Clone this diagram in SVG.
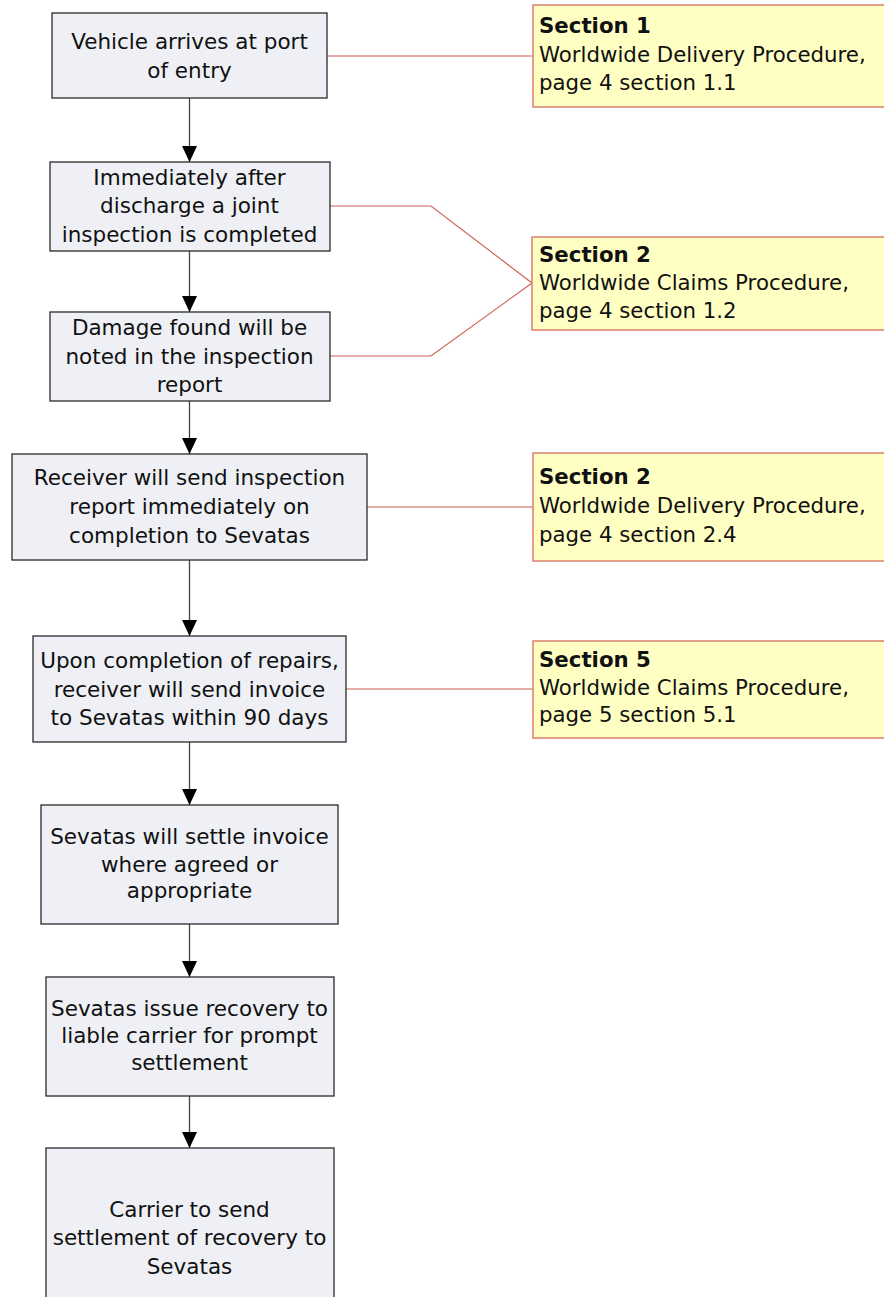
<svg xmlns="http://www.w3.org/2000/svg" width="884" height="1297" viewBox="0 0 884 1297">
<style>
.box{fill:#eef0f5;stroke:#2a2a2a;stroke-width:1.3}
.note{fill:#ffffc4;stroke:#dc7f6c;stroke-width:1.5}
.t{font-family:"DejaVu Sans",sans-serif;font-size:21.5px;fill:#111;text-anchor:middle}
.n{font-family:"DejaVu Sans",sans-serif;font-size:21.3px;fill:#111}
.b{font-weight:bold}
.flow{stroke:#444;stroke-width:1.3;fill:none;marker-end:url(#ah)}
.ref{stroke:#cd5d52;stroke-width:1.1;fill:none}
</style>
<defs>
<marker id="ah" markerWidth="16" markerHeight="15" refX="16" refY="7.5" orient="auto" markerUnits="userSpaceOnUse" viewBox="0 0 16 15">
<path d="M0,0 L16,7.5 L0,15 Z" fill="#000"/>
</marker>
</defs>
<rect width="884" height="1297" fill="#fff"/>
<g id="connectors">
<line class="flow" x1="189.5" y1="98" x2="189.5" y2="162"/>
<line class="flow" x1="189.5" y1="251" x2="189.5" y2="312"/>
<line class="flow" x1="189.5" y1="401" x2="189.5" y2="454"/>
<line class="flow" x1="189.5" y1="560" x2="189.5" y2="636"/>
<line class="flow" x1="189.5" y1="742" x2="189.5" y2="805"/>
<line class="flow" x1="189.5" y1="924" x2="189.5" y2="977"/>
<line class="flow" x1="189.5" y1="1096" x2="189.5" y2="1148"/>
<polyline class="ref" points="327,56 533,56"/>
<polyline class="ref" points="330,206 431,206 532,283"/>
<polyline class="ref" points="330,356 431,356 532,283"/>
<polyline class="ref" points="367,507 533,507"/>
<polyline class="ref" points="346,689 533,689"/>
</g>
<g id="n1"><rect class="box" x="52" y="13" width="275" height="85"/>
<text class="t" x="189.5" y="49">Vehicle arrives at port</text><text class="t" x="189.5" y="78">of entry</text></g>
<g id="n2"><rect class="box" x="50" y="162" width="280" height="89"/>
<text class="t" x="189.5" y="185">Immediately after</text><text class="t" x="189.5" y="213">discharge a joint</text><text class="t" x="189.5" y="242">inspection is completed</text></g>
<g id="n3"><rect class="box" x="50" y="312" width="280" height="89"/>
<text class="t" x="189.5" y="335">Damage found will be</text><text class="t" x="189.5" y="364">noted in the inspection</text><text class="t" x="189.5" y="392">report</text></g>
<g id="n4"><rect class="box" x="12" y="454" width="355" height="106"/>
<text class="t" x="189.5" y="485">Receiver will send inspection</text><text class="t" x="189.5" y="514">report immediately on</text><text class="t" x="189.5" y="543">completion to Sevatas</text></g>
<g id="n5"><rect class="box" x="33" y="636" width="313" height="106"/>
<text class="t" x="189.5" y="668">Upon completion of repairs,</text><text class="t" x="189.5" y="697">receiver will send invoice</text><text class="t" x="189.5" y="725">to Sevatas within 90 days</text></g>
<g id="n6"><rect class="box" x="41" y="805" width="297" height="119"/>
<text class="t" x="189.5" y="844">Sevatas will settle invoice</text><text class="t" x="189.5" y="872">where agreed or</text><text class="t" x="189.5" y="898">appropriate</text></g>
<g id="n7"><rect class="box" x="46" y="977" width="288" height="119"/>
<text class="t" x="189.5" y="1016">Sevatas issue recovery to</text><text class="t" x="189.5" y="1043">liable carrier for prompt</text><text class="t" x="189.5" y="1070">settlement</text></g>
<g id="n8"><rect class="box" x="46" y="1148" width="288" height="180"/>
<text class="t" x="189.5" y="1217">Carrier to send</text><text class="t" x="189.5" y="1245">settlement of recovery to</text><text class="t" x="189.5" y="1274">Sevatas</text></g>
<g id="s1"><rect class="note" x="533" y="5" width="360" height="102"/>
<text class="n b" x="539" y="33">Section 1</text><text class="n" x="539" y="62">Worldwide Delivery Procedure,</text><text class="n" x="539" y="90">page 4 section 1.1</text></g>
<g id="s2"><rect class="note" x="532" y="237" width="360" height="93"/>
<text class="n b" x="539" y="262">Section 2</text><text class="n" x="539" y="290">Worldwide Claims Procedure,</text><text class="n" x="539" y="318">page 4 section 1.2</text></g>
<g id="s3"><rect class="note" x="533" y="453" width="360" height="108"/>
<text class="n b" x="539" y="484">Section 2</text><text class="n" x="539" y="513">Worldwide Delivery Procedure,</text><text class="n" x="539" y="542">page 4 section 2.4</text></g>
<g id="s4"><rect class="note" x="533" y="641" width="360" height="97"/>
<text class="n b" x="539" y="667">Section 5</text><text class="n" x="539" y="695">Worldwide Claims Procedure,</text><text class="n" x="539" y="722">page 5 section 5.1</text></g>
</svg>
